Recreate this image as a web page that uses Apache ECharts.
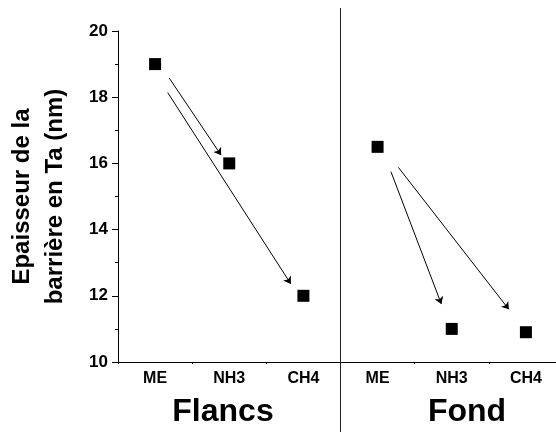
<!DOCTYPE html>
<html>
<head>
<meta charset="utf-8">
<script src="https://cdn.jsdelivr.net/npm/echarts@6/dist/echarts.min.js"></script>
<style>
html,body{margin:0;padding:0;background:#fff;}
#main{width:556px;height:432px;}
</style>
</head>
<body>
<div id="main"></div>
<script>
// ---- data ----
const categories = ['ME', 'NH3', 'CH4', 'ME', 'NH3', 'CH4'];
const groupNames = ['Flancs', 'Fond'];
const thickness = [19.0, 16.0, 12.0, 16.5, 11.0, 10.9];
const yMin = 10, yMax = 20, yStep = 2;
const yTitle = 'Epaisseur de la\nbarrière en Ta (nm)';
// arrow annotations in data units: [x (category index), y (nm)]
const arrowStarts = [[0.19, 18.58], [0.17, 18.14], [3.18, 15.75], [3.28, 15.88]];
const arrowEnds   = [[0.89, 16.25], [1.83, 12.36], [3.86, 11.75], [4.77, 11.59]];
const separatorX = 2.5;

const FONT = 'Arial, "Liberation Sans", sans-serif';
const chart = echarts.init(document.getElementById('main'), null, {renderer: 'canvas'});

const option = {
  backgroundColor: '#fff',
  animation: false,
  grid: {left: 118, top: 31, right: -7, bottom: 70, containLabel: false, outerBoundsMode: 'none'},
  xAxis: [
    {
      type: 'category', data: categories, boundaryGap: true, position: 'bottom',
      axisLine: {onZero: false, lineStyle: {color: '#000', width: 1}},
      axisTick: {alignWithLabel: true, length: 5, lineStyle: {color: '#000'}},
      axisLabel: {interval: 0, margin: 9, color: '#000', fontSize: 16, fontWeight: 'bold', fontFamily: FONT},
      splitLine: {show: false}
    },
    {
      type: 'value', min: -0.5, max: 5.5, interval: 1, position: 'bottom',
      axisLine: {show: false, onZero: false},
      axisTick: {show: true, length: 2, lineStyle: {color: '#000'}},
      axisLabel: {show: false},
      splitLine: {show: false}
    }
  ],
  yAxis: {
    type: 'value', min: yMin, max: yMax, interval: yStep,
    name: yTitle, nameLocation: 'middle', nameGap: 46,
    nameTextStyle: {color: '#000', fontSize: 24, fontWeight: 'bold', fontFamily: FONT, lineHeight: 33},
    axisLine: {show: true, onZero: false, lineStyle: {color: '#000', width: 1}},
    axisTick: {show: true, length: 6, lineStyle: {color: '#000'}},
    minorTick: {show: true, splitNumber: 2, length: 3, lineStyle: {color: '#000'}},
    axisLabel: {margin: 10, color: '#000', fontSize: 17, fontWeight: 'bold', fontFamily: FONT},
    splitLine: {show: false}
  },
  series: [
    {
      type: 'scatter', xAxisIndex: 1, yAxisIndex: 0,
      symbol: 'rect', symbolSize: 12,
      itemStyle: {color: '#000', opacity: 1},
      data: thickness.map((v, i) => [i, v]),
      z: 3
    },
    {
      type: 'lines', coordinateSystem: 'cartesian2d', xAxisIndex: 1, yAxisIndex: 0,
      symbol: ['none', 'arrow'], symbolSize: 7,
      lineStyle: {color: '#000', width: 1, opacity: 1, curveness: 0},
      data: arrowStarts.map((s, i) => ({coords: [s, arrowEnds[i]]})),
      z: 2
    }
  ]
};
chart.setOption(option);

const sepPx = chart.convertToPixel({xAxisIndex: 1}, separatorX);
chart.setOption({
  graphic: [
    {type: 'line', shape: {x1: sepPx, y1: 8, x2: sepPx, y2: 432}, style: {stroke: '#222', lineWidth: 1}, z: 10},
    {type: 'text', x: 223, y: 412, style: {text: groupNames[0], font: 'bold 32px ' + FONT, fill: '#000', textAlign: 'center', textVerticalAlign: 'middle'}},
    {type: 'text', x: 467, y: 412, style: {text: groupNames[1], font: 'bold 32px ' + FONT, fill: '#000', textAlign: 'center', textVerticalAlign: 'middle'}}
  ]
});
</script>
</body>
</html>
